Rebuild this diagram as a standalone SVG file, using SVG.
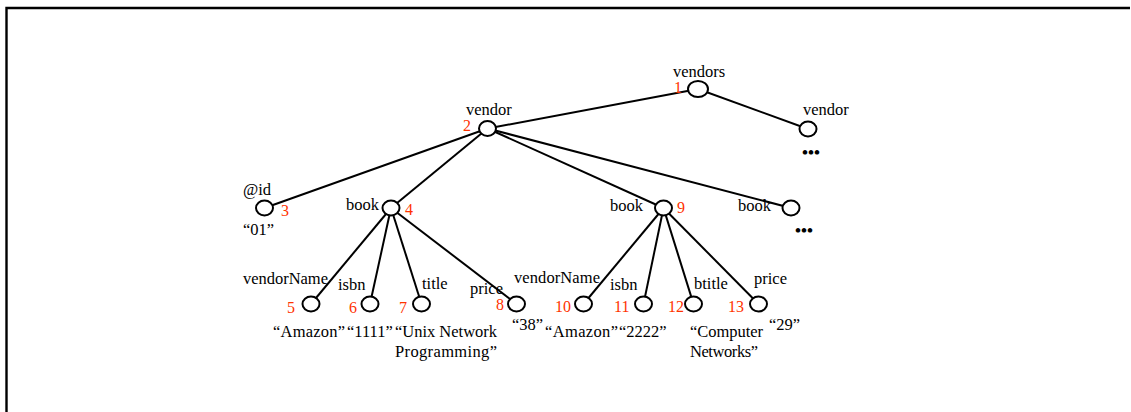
<svg xmlns="http://www.w3.org/2000/svg" width="1131" height="412" viewBox="0 0 1131 412">
  <style>
    .frame { fill: none; stroke: #000; stroke-width: 2.4; }
    .edge { stroke: #000; stroke-width: 2; fill: none; }
    .node ellipse { fill: #fff; stroke: #000; stroke-width: 2; }
    .lbl { font-family: "Liberation Serif", "Times New Roman", serif; font-size: 16.5px; fill: #000; }
    .num { font-family: "Liberation Serif", "Times New Roman", serif; font-size: 16px; fill: #ff3300; }
    .more { font-family: "Liberation Serif", "Times New Roman", serif; font-size: 17px; font-weight: bold; fill: #000; }
  </style>

  <!-- open frame: top and left borders -->
  <path class="frame" d="M6.5 412 V8 H1130"/>

  <!-- tree edges, drawn center to center and covered by the node ellipses -->
  <g id="connectors">
    <line class="edge" x1="698" y1="89" x2="487.5" y2="128.5"/>
    <line class="edge" x1="698" y1="89" x2="808" y2="129"/>
    <line class="edge" x1="487.5" y1="128.5" x2="264.5" y2="208"/>
    <line class="edge" x1="487.5" y1="128.5" x2="391" y2="208"/>
    <line class="edge" x1="487.5" y1="128.5" x2="663.5" y2="208"/>
    <line class="edge" x1="487.5" y1="128.5" x2="791" y2="208"/>
    <line class="edge" x1="391" y1="208" x2="311" y2="304"/>
    <line class="edge" x1="391" y1="208" x2="370" y2="304"/>
    <line class="edge" x1="391" y1="208" x2="421.5" y2="304"/>
    <line class="edge" x1="391" y1="208" x2="516.5" y2="304"/>
    <line class="edge" x1="663.5" y1="208" x2="583.5" y2="304"/>
    <line class="edge" x1="663.5" y1="208" x2="643.5" y2="304"/>
    <line class="edge" x1="663.5" y1="208" x2="693.5" y2="304"/>
    <line class="edge" x1="663.5" y1="208" x2="758.5" y2="304"/>
  </g>

  <g id="n1" class="node">
    <ellipse cx="698" cy="89" rx="10" ry="8"/>
    <text class="lbl" x="673" y="77">vendors</text>
    <text class="num" x="674" y="93">1</text>
  </g>
  <g id="n2" class="node">
    <ellipse cx="487.5" cy="128.5" rx="8.5" ry="7.5"/>
    <text class="lbl" x="466" y="115">vendor</text>
    <text class="num" x="463" y="131">2</text>
  </g>
  <g id="vendor-more" class="node">
    <ellipse cx="808" cy="129" rx="8.5" ry="7.5"/>
    <text class="lbl" x="803" y="115">vendor</text>
    <text class="more" x="802" y="158">•••</text>
  </g>
  <g id="n3" class="node">
    <ellipse cx="264.5" cy="208" rx="8.5" ry="7.5"/>
    <text class="lbl" x="243" y="195">@id</text>
    <text class="num" x="281" y="216">3</text>
    <text class="lbl" x="243" y="235">“01”</text>
  </g>
  <g id="n4" class="node">
    <ellipse cx="391" cy="208" rx="8.5" ry="7.5"/>
    <text class="lbl" x="346" y="210">book</text>
    <text class="num" x="405" y="215">4</text>
  </g>
  <g id="n9" class="node">
    <ellipse cx="663.5" cy="208" rx="8.5" ry="7.5"/>
    <text class="lbl" x="610" y="211">book</text>
    <text class="num" x="677" y="213">9</text>
  </g>
  <g id="book-more" class="node">
    <ellipse cx="791" cy="208" rx="8.5" ry="7.5"/>
    <text class="lbl" x="738" y="211">book</text>
    <text class="more" x="795" y="236">•••</text>
  </g>
  <g id="n5" class="node">
    <ellipse cx="311" cy="304" rx="8.5" ry="7.5"/>
    <text class="lbl" x="243" y="284" textLength="85">vendorName</text>
    <text class="num" x="287" y="313">5</text>
    <text class="lbl" x="273" y="337" textLength="72">“Amazon”</text>
  </g>
  <g id="n6" class="node">
    <ellipse cx="370" cy="304" rx="8.5" ry="7.5"/>
    <text class="lbl" x="338" y="290">isbn</text>
    <text class="num" x="349" y="313">6</text>
    <text class="lbl" x="347" y="337">“1111”</text>
  </g>
  <g id="n7" class="node">
    <ellipse cx="421.5" cy="304" rx="8.5" ry="7.5"/>
    <text class="lbl" x="422" y="289">title</text>
    <text class="num" x="399" y="313">7</text>
    <text class="lbl" x="395" y="337" textLength="102">“Unix Network</text>
    <text class="lbl" x="395" y="357" textLength="102">Programming”</text>
  </g>
  <g id="n8" class="node">
    <ellipse cx="516.5" cy="304" rx="8.5" ry="7.5"/>
    <text class="lbl" x="470" y="294">price</text>
    <text class="num" x="496" y="310">8</text>
    <text class="lbl" x="512" y="330">“38”</text>
  </g>
  <g id="n10" class="node">
    <ellipse cx="583.5" cy="304" rx="8.5" ry="7.5"/>
    <text class="lbl" x="514" y="283" textLength="86">vendorName</text>
    <text class="num" x="555" y="312">10</text>
    <text class="lbl" x="545" y="337" textLength="73">“Amazon”</text>
  </g>
  <g id="n11" class="node">
    <ellipse cx="643.5" cy="304" rx="8.5" ry="7.5"/>
    <text class="lbl" x="610" y="290">isbn</text>
    <text class="num" x="614" y="312">11</text>
    <text class="lbl" x="619" y="337">“2222”</text>
  </g>
  <g id="n12" class="node">
    <ellipse cx="693.5" cy="304" rx="8.5" ry="7.5"/>
    <text class="lbl" x="694" y="289">btitle</text>
    <text class="num" x="668" y="312">12</text>
    <text class="lbl" x="690" y="337" textLength="73">“Computer</text>
    <text class="lbl" x="690" y="357" textLength="68">Networks”</text>
  </g>
  <g id="n13" class="node">
    <ellipse cx="758.5" cy="304" rx="8.5" ry="7.5"/>
    <text class="lbl" x="754" y="284">price</text>
    <text class="num" x="728" y="312">13</text>
    <text class="lbl" x="769" y="330">“29”</text>
  </g>
</svg>
